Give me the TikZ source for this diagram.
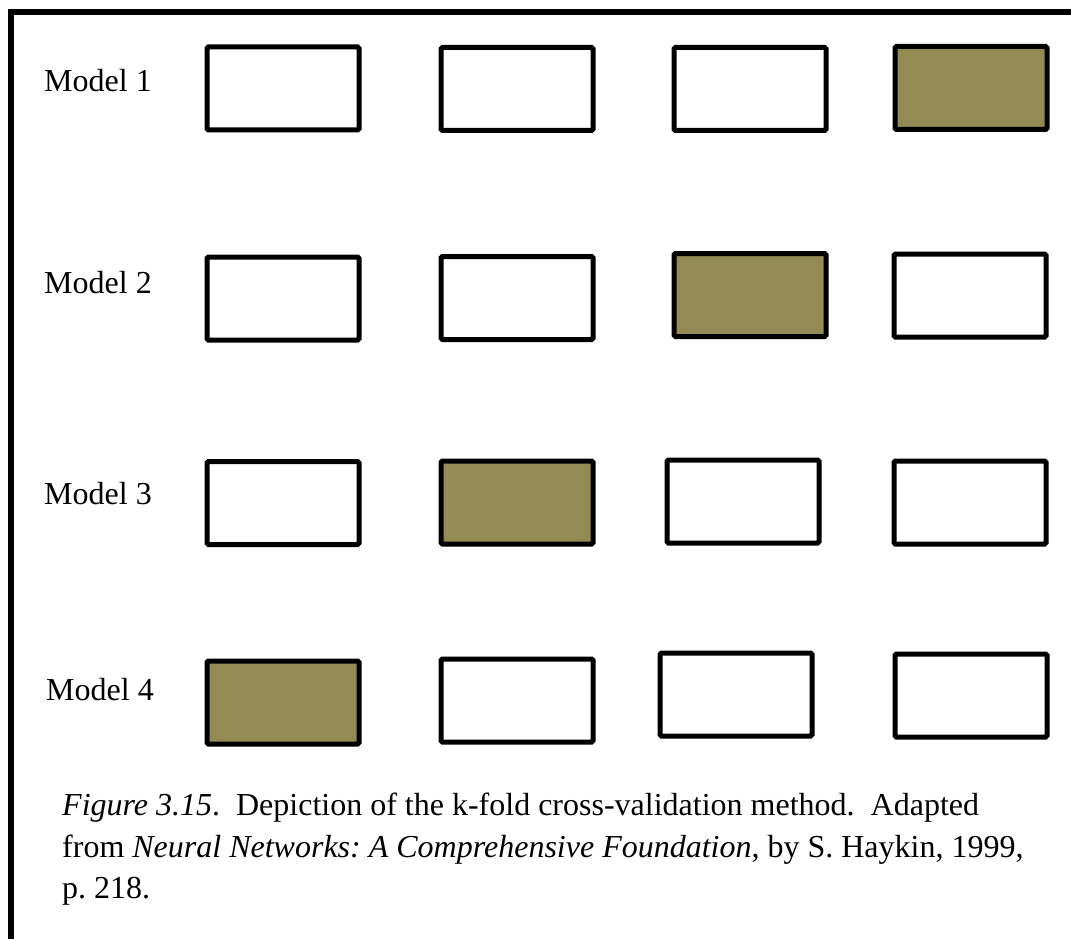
\documentclass[tikz,border=0pt]{standalone}
\usepackage{fontspec}
\setmainfont{Liberation Serif}
\definecolor{olivefill}{RGB}{148,138,84}
\frenchspacing
\begin{document}
\begin{tikzpicture}[x=1pt,y=-1pt,
  fold/.style={draw=black,line width=5pt,rounded corners=1.5pt,minimum width=152pt,minimum height=83pt,inner sep=0pt,fill=white},
  testfold/.style={fold,fill=olivefill},
  lbl/.style={anchor=base west,inner sep=0pt,font=\fontsize{32}{41.5}\selectfont}]
\useasboundingbox (0,0) rectangle (1071,939);
\draw[line width=6pt] (11,960) -- (11,12) -- (1090,12);
% labels
\node[lbl] (l1) at (44,92) {Model 1};
\node[lbl] (l2) at (44,293) {Model 2};
\node[lbl] (l3) at (44,504) {Model 3};
\node[lbl] (l4) at (46,700) {Model 4};
% row 1
\node[fold] (a1) at (283,88.5) {};
\node[fold] (a2) at (517,89) {};
\node[fold] (a3) at (750,89) {};
\node[testfold] (a4) at (971,88) {};
% row 2
\node[fold] (b1) at (283,298.5) {};
\node[fold] (b2) at (517,298) {};
\node[testfold] (b3) at (750,295) {};
\node[fold] (b4) at (970,295.5) {};
% row 3
\node[fold] (c1) at (283,503) {};
\node[testfold] (c2) at (517,502.5) {};
\node[fold] (c3) at (743,501.5) {};
\node[fold] (c4) at (970,502.5) {};
% row 4
\node[testfold] (d1) at (283,702.5) {};
\node[fold] (d2) at (517,700.5) {};
\node[fold] (d3) at (736,694.5) {};
\node[fold] (d4) at (971,695.5) {};
% caption
\node[lbl] (cap1) at (62,815) {\textit{Figure 3.15}.\ \ Depiction of the k-fold cross-validation method.\ \ Adapted};
\node[lbl] (cap2) at (62,857) {from \textit{Neural Networks: A Comprehensive Foundation}, by S. Haykin, 1999,};
\node[lbl] (cap3) at (62,898) {p. 218.};
\end{tikzpicture}
\end{document}
